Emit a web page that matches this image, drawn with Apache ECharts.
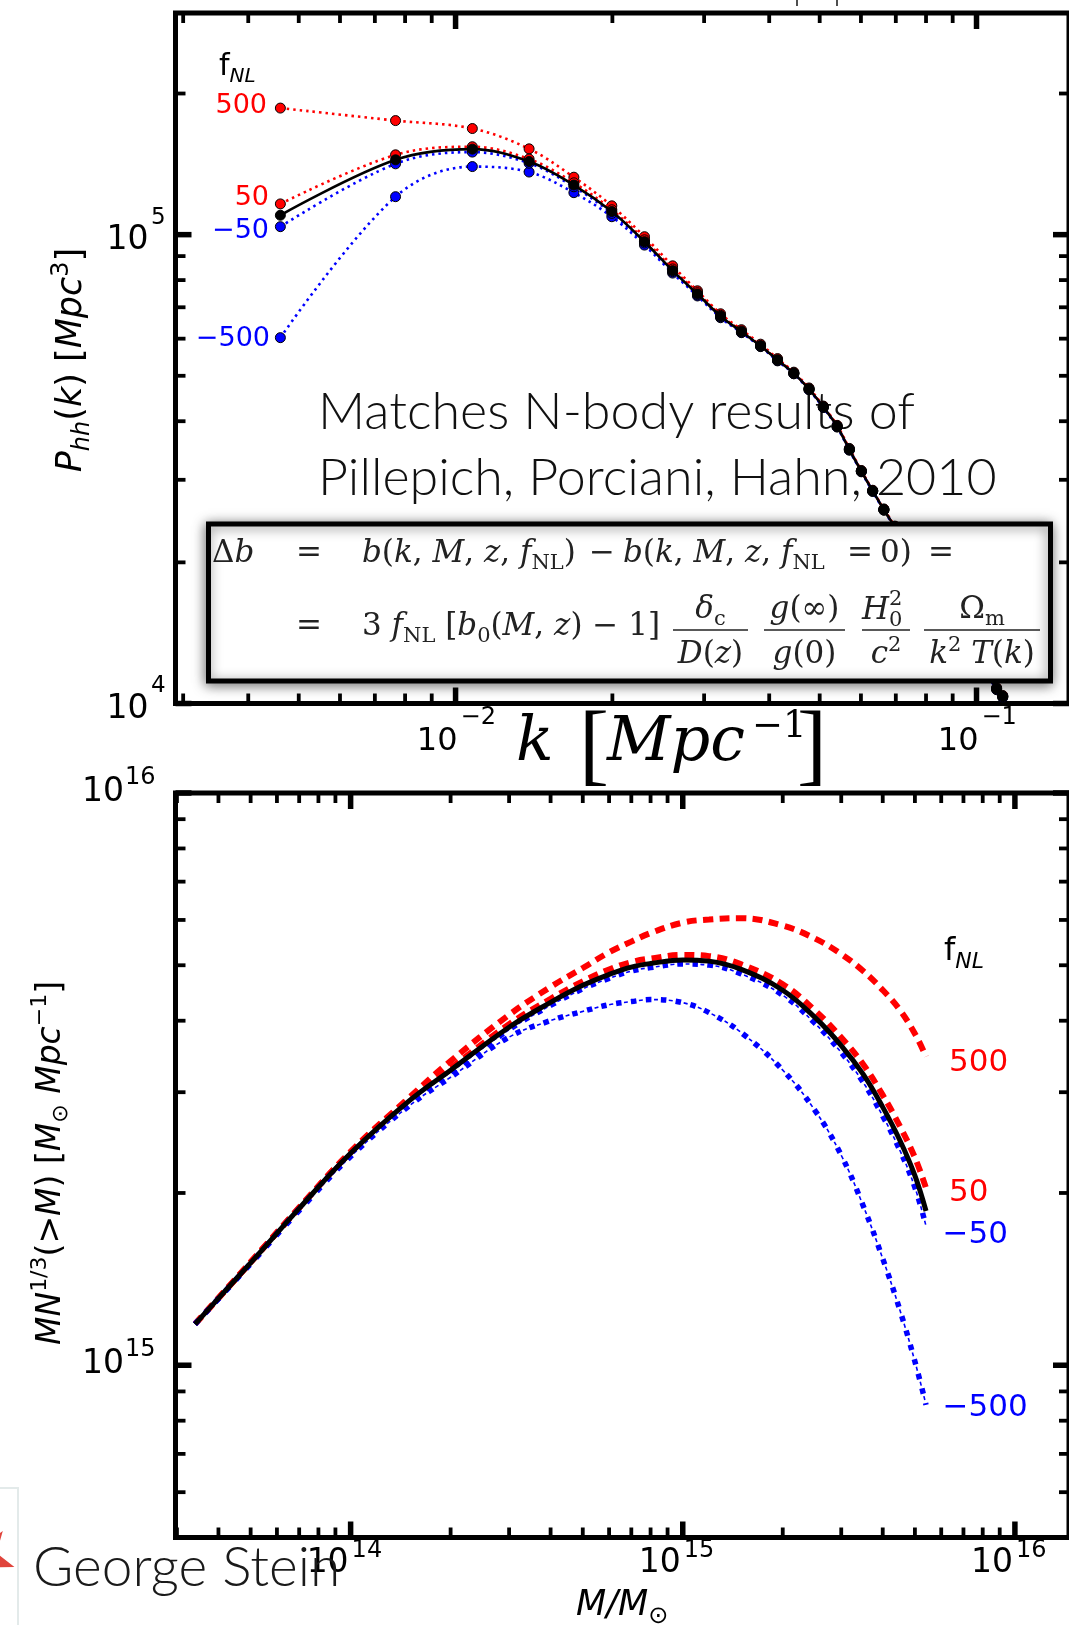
<!DOCTYPE html>
<html><head><meta charset="utf-8">
<script src="https://cdn.jsdelivr.net/npm/echarts@6/dist/echarts.min.js"></script>
<style>html,body{margin:0;padding:0;background:#fff}#c{width:1069px;height:1625px}</style>
</head><body><div id="c"></div>
<script>
// ---------- top panel: halo power spectrum P_hh(k) ----------
const kBins = [0.00461, 0.00767, 0.01077, 0.01384, 0.01687, 0.01995, 0.02305, 0.0261, 0.02913, 0.03226, 0.03538, 0.0385, 0.0415, 0.0446, 0.0477, 0.0508, 0.0540, 0.0570, 0.0601, 0.0632, 0.0664, 0.0697, 0.1093, 0.1123];
const phhZero = [1.10e5, 1.444e5, 1.522e5, 1.432e5, 1.276e5, 1.12e5, 9.66e4, 8.38e4, 7.47e4, 6.70e4, 6.21e4, 5.79e4, 5.40e4, 5.06e4, 4.68e4, 4.29e4, 3.90e4, 3.48e4, 3.13e4, 2.84e4, 2.59e4, 2.38e4, 1.075e4, 1.035e4];
const phhP50 = [1.163e5, 1.48e5, 1.54e5, 1.45e5, 1.29e5, 1.13e5, 9.75e4, 8.45e4, 7.52e4, 6.73e4, 6.23e4, 5.80e4, 5.41e4, 5.07e4, 4.69e4, 4.30e4, 3.91e4, 3.49e4, 3.135e4, 2.845e4, 2.595e4, 2.383e4, 1.077e4, 1.037e4];
const phhM50 = [1.040e5, 1.416e5, 1.50e5, 1.42e5, 1.265e5, 1.11e5, 9.60e4, 8.34e4, 7.44e4, 6.68e4, 6.19e4, 5.78e4, 5.39e4, 5.05e4, 4.67e4, 4.28e4, 3.89e4, 3.475e4, 3.125e4, 2.835e4, 2.585e4, 2.377e4, 1.073e4, 1.033e4];
const phhP500 = [1.862e5, 1.751e5, 1.684e5, 1.524e5, 1.326e5, 1.152e5, 9.90e4, 8.58e4, 7.59e4, 6.78e4, 6.27e4, 5.84e4, 5.44e4, 5.09e4, 4.71e4, 4.31e4, 3.92e4, 3.50e4, 3.14e4, 2.85e4, 2.60e4, 2.39e4, 1.08e4, 1.04e4];
const phhM500 = [6.03e4, 1.205e5, 1.397e5, 1.36e5, 1.229e5, 1.092e5, 9.50e4, 8.28e4, 7.40e4, 6.65e4, 6.18e4, 5.77e4, 5.38e4, 5.05e4, 4.67e4, 4.28e4, 3.89e4, 3.47e4, 3.12e4, 2.835e4, 2.585e4, 2.375e4, 1.07e4, 1.03e4];

// ---------- bottom panel: M N^{1/3}(>M) ----------
const massGrid = [3.4e13, 5e13, 7e13, 1e14, 1.5e14, 2e14, 3e14, 4e14, 5e14, 6e14, 7e14, 8e14, 1e15, 1.2e15, 1.5e15, 2e15, 2.5e15, 3e15, 3.5e15, 4e15, 4.5e15, 5e15, 5.4e15];
const mnZero = [1.180e15, 1.510e15, 1.880e15, 2.347e15, 2.897e15, 3.278e15, 3.897e15, 4.307e15, 4.612e15, 4.819e15, 4.963e15, 5.035e15, 5.108e15, 5.084e15, 4.917e15, 4.522e15, 4.054e15, 3.620e15, 3.219e15, 2.825e15, 2.475e15, 2.145e15, 1.860e15];
const mnP500 = [1.180e15, 1.515e15, 1.886e15, 2.362e15, 2.935e15, 3.401e15, 4.096e15, 4.583e15, 4.945e15, 5.267e15, 5.499e15, 5.692e15, 5.935e15, 6.012e15, 6.044e15, 5.864e15, 5.568e15, 5.230e15, 4.880e15, 4.525e15, 4.180e15, 3.796e15, 3.462e15];
const mnP50 = [1.180e15, 1.513e15, 1.884e15, 2.356e15, 2.914e15, 3.304e15, 3.944e15, 4.368e15, 4.687e15, 4.917e15, 5.064e15, 5.137e15, 5.212e15, 5.187e15, 5.017e15, 4.632e15, 4.170e15, 3.738e15, 3.351e15, 2.965e15, 2.619e15, 2.306e15, 2.040e15];
const mnM50 = [1.180e15, 1.507e15, 1.876e15, 2.338e15, 2.880e15, 3.252e15, 3.858e15, 4.254e15, 4.548e15, 4.742e15, 4.884e15, 4.954e15, 5.026e15, 5.003e15, 4.829e15, 4.432e15, 3.957e15, 3.519e15, 3.116e15, 2.725e15, 2.378e15, 2.044e15, 1.751e15];
const mnM500 = [1.180e15, 1.504e15, 1.863e15, 2.316e15, 2.839e15, 3.186e15, 3.744e15, 4.002e15, 4.153e15, 4.266e15, 4.320e15, 4.355e15, 4.301e15, 4.133e15, 3.813e15, 3.279e15, 2.788e15, 2.328e15, 1.894e15, 1.536e15, 1.251e15, 1.015e15, 8.527e14];

// ---------- axes / ticks ----------
const topXRange = [2.9e-3, 0.1505], topYRange = [1e4, 2.97e5];
const botXRange = [2.97e13, 1.455e16], botYRange = [5e14, 1e16];
const topXMajor = [0.01, 0.1], topXMajorExp = ['−2', '−1'];
const topXMinor = [0.003, 0.004, 0.005, 0.006, 0.007, 0.008, 0.009, 0.02, 0.03, 0.04, 0.05, 0.06, 0.07, 0.08, 0.09];
const topYMajor = [1e4, 1e5], topYMajorExp = ['4', '5'];
const topYMinor = [2e4, 3e4, 4e4, 5e4, 6e4, 7e4, 8e4, 9e4, 2e5];
const botXMajor = [1e14, 1e15, 1e16], botXMajorExp = ['14', '15', '16'];
const botXMinor = [3e13, 4e13, 5e13, 6e13, 7e13, 8e13, 9e13, 2e14, 3e14, 4e14, 5e14, 6e14, 7e14, 8e14, 9e14, 2e15, 3e15, 4e15, 5e15, 6e15, 7e15, 8e15, 9e15];
const botYMajor = [1e15, 1e16], botYMajorExp = ['15', '16'];
const botYMinor = [6e14, 7e14, 8e14, 9e14, 2e15, 3e15, 4e15, 5e15, 6e15, 7e15, 8e15, 9e15];

const fnlNames = ['500', '50', '−50', '−500'];

(function () {
const RED = '#ff0000', BLUE = '#0000ff';
const pair = (xs, ys) => xs.map((x, i) => [x, ys[i]]);
const hidden = {axisLine: {show: false}, axisTick: {show: false}, axisLabel: {show: false}, splitLine: {show: false}};

function topSeries(name, ys, color, dotted, z) {
  return {
    name, type: 'line', xAxisIndex: 0, yAxisIndex: 0, data: pair(kBins, ys), z,
    smooth: 0.35, symbol: 'circle', symbolSize: 10, showAllSymbol: true,
    itemStyle: {color, borderColor: '#000', borderWidth: 1},
    lineStyle: {color: dotted ? color : '#000', width: 2.6, type: dotted ? [2.5, 4] : 'solid'},
    emphasis: {disabled: true}
  };
}
function botSeries(name, ys, color, width, type, off, z) {
  return {
    name, type: 'line', xAxisIndex: 1, yAxisIndex: 1, data: pair(massGrid, ys), z,
    smooth: 0.4, symbol: 'none',
    lineStyle: {color, width, type, dashOffset: off || 0, cap: 'butt'},
    emphasis: {disabled: true}
  };
}

const option = {
  animation: false,
  backgroundColor: '#fff',
  grid: [
    {left: 175.5, top: 13, width: 895.5, height: 690.5, show: true, borderColor: '#000', borderWidth: 5, backgroundColor: 'rgba(0,0,0,0)'},
    {left: 175.5, top: 793, width: 895.5, height: 744.5, show: true, borderColor: '#000', borderWidth: 5, backgroundColor: 'rgba(0,0,0,0)'}
  ],
  xAxis: [
    Object.assign({type: 'log', logBase: 10, gridIndex: 0, min: topXRange[0], max: topXRange[1]}, hidden),
    Object.assign({type: 'log', logBase: 10, gridIndex: 1, min: botXRange[0], max: botXRange[1]}, hidden)
  ],
  yAxis: [
    Object.assign({type: 'log', logBase: 10, gridIndex: 0, min: topYRange[0], max: topYRange[1]}, hidden),
    Object.assign({type: 'log', logBase: 10, gridIndex: 1, min: botYRange[0], max: botYRange[1]}, hidden)
  ],
  series: [
    topSeries('fNL=500', phhP500, RED, true, 3),
    topSeries('fNL=-500', phhM500, BLUE, true, 3),
    topSeries('fNL=50', phhP50, RED, true, 4),
    topSeries('fNL=-50', phhM50, BLUE, true, 4),
    topSeries('fNL=0', phhZero, '#000', false, 5),
    botSeries('M fNL=500', mnP500, RED, 6, [10, 6.5], 0, 3),
    botSeries('M fNL=50', mnP50, RED, 6, [10, 6.5], 0, 3),
    botSeries('M fNL=-500 a', mnM500, BLUE, 5.5, [5.5, 9.5], 0, 4),
    botSeries('M fNL=-500 b', mnM500, BLUE, 1.6, [4, 11], -8, 4),
    botSeries('M fNL=-50 a', mnM50, BLUE, 5.5, [5.5, 9.5], 0, 4),
    botSeries('M fNL=-50 b', mnM50, BLUE, 1.6, [4, 11], -8, 4),
    botSeries('M fNL=0', mnZero, '#000', 5, 'solid', 0, 5)
  ]
};

const chart = echarts.init(document.getElementById('c'), null, {renderer: 'canvas'});
chart.setOption(option);

// ---------- graphics: ticks, labels, annotations ----------
const els = [];
function txt(x, y, text, font, opt) {
  opt = opt || {};
  const st = {text, fill: opt.fill || '#000', font,
    align: opt.align || 'left', textAlign: opt.align || 'left',
    verticalAlign: 'middle', textVerticalAlign: 'middle'};
  if (opt.rich) st.rich = opt.rich;
  els.push({type: 'text', x, y, rotation: opt.rot || 0, z: opt.z || 30, silent: true, style: st});
}
function line(x1, y1, x2, y2, w, z, color) {
  els.push({type: 'line', z: z || 50, silent: true, shape: {x1, y1, x2, y2}, style: {stroke: color || '#000', lineWidth: w}});
}
function ticks(gi, xr, yr, xMaj, xMin, yMaj, yMin) {
  const X = v => chart.convertToPixel({xAxisIndex: gi}, v);
  const Y = v => chart.convertToPixel({yAxisIndex: gi}, v);
  const r = {xL: X(xr[0]), xR: X(xr[1]), yB: Y(yr[0]), yT: Y(yr[1]), X, Y};
  const dx = (v, len, w) => { const p = X(v); line(p, r.yB, p, r.yB - len, w); line(p, r.yT, p, r.yT + len, w); };
  const dy = (v, len, w) => { const p = Y(v); line(r.xL, p, r.xL + len, p, w); line(r.xR, p, r.xR - len, p, w); };
  xMaj.forEach(v => dx(v, 16, 5.5)); xMin.forEach(v => dx(v, 10, 3.8));
  yMaj.forEach(v => dy(v, 16, 5.5)); yMin.forEach(v => dy(v, 10, 3.8));
  return r;
}
const DV = '"DejaVu Sans"';
const pT = ticks(0, topXRange, topYRange, topXMajor, topXMinor, topYMajor, topYMinor);
const pB = ticks(1, botXRange, botYRange, botXMajor, botXMinor, botYMajor, botYMinor);

// tick labels
topXMajor.forEach((v, i) => { const p = pT.X(v);
  txt(p + 2, pT.yB + 38.5, '10', '32px ' + DV, {align: 'right'});
  txt(p + 5, pT.yB + 14, topXMajorExp[i], '24px ' + DV); });
topYMajor.forEach((v, i) => { const p = pT.Y(v);
  txt(pT.xL - 27, p + 6, '10', '33px ' + DV, {align: 'right'});
  txt(pT.xL - 24.5, p - 17, topYMajorExp[i], '23px ' + DV); });
botXMajor.forEach((v, i) => { const p = pB.X(v);
  txt(p - 2, pB.yB + 26, '10', '33px ' + DV, {align: 'right'});
  txt(p + 1, pB.yB + 13, botXMajorExp[i], '24px ' + DV); });
botYMajor.forEach((v, i) => { const p = pB.Y(v);
  txt(pB.xL - 51.5, p - 1, '10', '33px ' + DV, {align: 'right'});
  txt(pB.xL - 50.5, p - 15, botYMajorExp[i], '24px ' + DV); });

// axis titles
const sansRich = (fs) => ({
  i: {fontFamily: 'DejaVu Sans', fontStyle: 'italic', fontSize: fs, lineHeight: fs + 10, fill: '#000'},
  n: {fontFamily: 'DejaVu Sans', fontSize: fs, lineHeight: fs + 10, fill: '#000'},
  sb: {fontFamily: 'DejaVu Sans', fontStyle: 'italic', fontSize: Math.round(fs * 0.68), lineHeight: Math.round(fs * 0.7), verticalAlign: 'bottom', fill: '#000'},
  sbn: {fontFamily: 'DejaVu Sans', fontSize: Math.round(fs * 0.68), lineHeight: Math.round(fs * 0.7), verticalAlign: 'bottom', fill: '#000'},
  sp: {fontFamily: 'DejaVu Sans', fontSize: Math.round(fs * 0.68), lineHeight: Math.round(fs * 0.6), verticalAlign: 'top', fill: '#000'}
});
txt(72, 360, '{i|P}{sb|hh}{n|(}{i|k}{n|) [}{i|Mpc}{sp|3}{n|]}', '35px ' + DV, {rich: sansRich(35), rot: Math.PI / 2, align: 'center'});
txt(51, 1163, '{i|MN}{sp|1/3}{n|(>}{i|M}{n|) [}{i|M}{sbn|⊙}{n| }{i|Mpc}{sp|−1}{n|]}', '33px ' + DV, {rich: sansRich(33), rot: Math.PI / 2, align: 'center'});
txt(576, 1606, '{i|M/M}{sbn|⊙}', '35px ' + DV, {rich: sansRich(35)});

// big serif x title of top panel
const DS = '"DejaVu Serif"', SER = '"Liberation Serif"';
txt(516, 744, 'k', 'italic 62px ' + DS);
txt(579, 750, '[', '90px ' + SER);
txt(607, 744, 'Mpc', 'italic 62px ' + DS);
txt(752, 727, '−1', '37px ' + DS);
txt(797, 750, ']', '90px ' + SER);

// fNL labels
txt(219, 67, '{n|f}{sb|NL}', '30px ' + DV, {rich: sansRich(30)});
const topLab = [[267, 106], [269, 197.5], [269, 231], [270, 339]];
fnlNames.forEach((s, i) => txt(topLab[i][0], topLab[i][1], s, '27px ' + DV, {align: 'right', fill: i < 2 ? RED : BLUE}));
txt(944, 952, '{n|f}{sb|NL}', '32px ' + DV, {rich: sansRich(32)});
const botLab = [[949, 1062.5], [949, 1192.5], [942.5, 1235], [942.5, 1407.5]];
fnlNames.forEach((s, i) => txt(botLab[i][0], botLab[i][1], s, '31px ' + DV, {fill: i < 2 ? RED : BLUE}));

// N-body annotation text (below the curves)
txt(318, 412, 'Matches N-body results of', '300 52px Lato', {z: 1, fill: '#111'});
txt(318, 478, 'Pillepich, Porciani, Hahn, 2010', '300 52px Lato', {z: 1, fill: '#111'});

// formula box
els.push({type: 'rect', z: 40, silent: true, shape: {x: 208.5, y: 524, width: 842, height: 157},
  style: {fill: '#fff', stroke: '#000', lineWidth: 5, shadowBlur: 12, shadowColor: 'rgba(0,0,0,0.5)', shadowOffsetX: -1, shadowOffsetY: 2}});
const FS = 31;
const fr = {
  i: {fontFamily: 'DejaVu Serif', fontStyle: 'italic', fontSize: FS, lineHeight: 40, fill: '#222'},
  r: {fontFamily: 'DejaVu Serif', fontSize: FS, lineHeight: 40, fill: '#222'},
  sb: {fontFamily: 'DejaVu Serif', fontSize: 21, lineHeight: 24, verticalAlign: 'bottom', fill: '#222'},
  sp: {fontFamily: 'DejaVu Serif', fontSize: 21, lineHeight: 22, verticalAlign: 'top', fill: '#222'}
};
const F = (x, y, s, align) => txt(x, y, s, FS + 'px ' + DS, {rich: fr, z: 45, align: align || 'left', fill: '#222'});
F(212, 554, '{r|Δ}{i|b}');
F(309, 554, '{r|=}', 'center');
F(362, 554, '{i|b}{r|(}{i|k}{r|, }{i|M}{r|, }{i|z}{r|, }{i|f}{sb|NL}{r|)}');
F(602, 554, '{r|−}', 'center');
F(623, 554, '{i|b}{r|(}{i|k}{r|, }{i|M}{r|, }{i|z}{r|, }{i|f}{sb|NL}');
F(860, 554, '{r|=}', 'center');
F(880, 554, '{r|0)}');
F(941, 554, '{r|=}', 'center');
F(309, 627, '{r|=}', 'center');
F(362, 627, '{r|3 }{i|f}{sb|NL}{r| [}{i|b}{sb|0}{r|(}{i|M}{r|, }{i|z}{r|) − 1]}');
const bars = [[673, 748], [764, 845], [862, 910], [924, 1040]];
bars.forEach(b => line(b[0], 630, b[1], 630, 1.6, 45, '#222'));
F(710.5, 610, '{i|δ}{sb|c}', 'center'); F(710.5, 655, '{i|D}{r|(}{i|z}{r|)}', 'center');
F(804.5, 610, '{i|g}{r|(∞)}', 'center'); F(804.5, 655, '{i|g}{r|(0)}', 'center');
F(862, 611, '{i|H}'); txt(889, 600, '2', '21px ' + DS, {z: 45, fill: '#222'}); txt(889, 621, '0', '21px ' + DS, {z: 45, fill: '#222'});
F(886, 655, '{i|c}{sp|2}', 'center');
F(982, 610, '{r|Ω}{sb|m}', 'center'); F(982, 655, '{i|k}{sp|2}{r| }{i|T}{r|(}{i|k}{r|)}', 'center');

// cropped marks at the very top
line(797, 0, 797, 6, 1.6, 20, '#222'); line(837, 0, 837, 6, 1.6, 20, '#222');

// watermark card
els.push({type: 'rect', z: 58, silent: true, shape: {x: -10, y: 1488, width: 28, height: 160}, style: {fill: '#fff', stroke: '#e3eaea', lineWidth: 2}});
const star = [];
for (let j = 0; j < 10; j++) {
  const a = (18 + j * 36) * Math.PI / 180, rr = j % 2 ? 13 : 32;
  star.push([-16 + rr * Math.cos(a), 1557 + rr * Math.sin(a)]);
}
els.push({type: 'polygon', z: 59, silent: true, shape: {points: star}, style: {fill: '#e0443c'}});
txt(33, 1568, 'George Stein', '300 55px Lato', {z: 60, fill: '#1a1a1a'});

chart.setOption({graphic: {elements: els}});
})();
</script>
</body></html>
